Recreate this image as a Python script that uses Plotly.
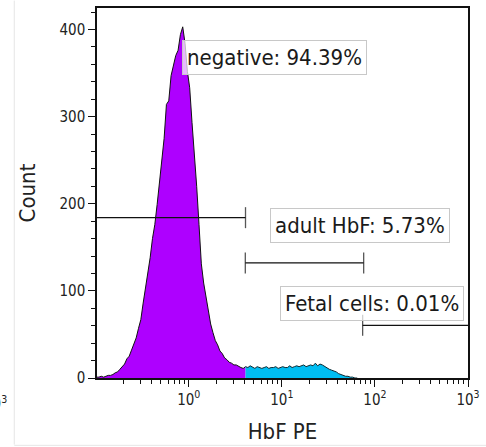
import numpy as np
import plotly.graph_objects as go

# ---- data -------------------------------------------------------------
bin_log_start = -0.99      # log10 of the first bin centre (HbF PE)
bin_log_step = 0.025       # bin width in decades
counts = [
    1, 1, 2, 1, 2, 3, 3, 4, 6, 7,
    10, 13, 16, 22, 25, 32, 40, 46, 57, 67,
    86, 103, 121, 138, 160, 176, 199, 222, 252, 275,
    314, 318, 347, 358, 370, 376, 394, 403, 384, 352,
    333, 293, 258, 220, 176, 131, 109, 93, 79, 62,
    52, 43, 38, 31, 28, 23, 21, 18, 17, 15,
    15, 13, 12, 11, 13, 12, 14, 12, 11, 13,
    12, 11, 12, 13, 11, 12, 12, 13, 11, 12,
    13, 12, 12, 14, 12, 13, 14, 13, 14, 15,
    13, 14, 15, 14, 17, 14, 16, 15, 13, 12,
    10, 9, 8, 7, 5, 4, 3, 2, 2, 1,
    1, 0, 0,
]

gate_names = ["negative", "adult HbF", "Fetal cells"]
gate_pct = [94.39, 5.73, 0.01]
gate_lo = [0.05, 4.05, 73.8]
gate_hi = [4.07, 75.7, 1500]
gate_level = [184, 132, 60.5]

x_tick_vals = [1, 10, 100, 1000]
x_tick_text = ["10<sup>0</sup>", "10<sup>1</sup>", "10<sup>2</sup>", "10<sup>3</sup>"]
x_minor_vals = [m * d for d in (0.1, 1, 10, 100) for m in range(2, 10)]

# ---- build ------------------------------------------------------------
centres = [10 ** (bin_log_start + bin_log_step * i) for i in range(len(counts))]
split = next(i for i, c in enumerate(centres) if c >= gate_hi[0] - 1e-6)

FONT = "DejaVu Sans Condensed, DejaVu Sans, sans-serif"
PURPLE = "#AE00FF"
CYAN = "#00BDF2"

fig = go.Figure()
fig.add_trace(go.Scatter(
    x=centres[:split + 1], y=counts[:split + 1], mode="lines",
    line=dict(color="#111111", width=1), fill="tozeroy", fillcolor=PURPLE,
    showlegend=False, hoverinfo="skip"))
fig.add_trace(go.Scatter(
    x=centres[split:], y=counts[split:], mode="lines",
    line=dict(color="#0a2a33", width=1), fill="tozeroy", fillcolor=CYAN,
    showlegend=False, hoverinfo="skip"))

# gates
cap_sizes = [[0, 15], [15, 15], [15, 0]]
for lo, hi, lev, caps in zip(gate_lo, gate_hi, gate_level, cap_sizes):
    fig.add_trace(go.Scatter(
        x=[lo, hi], y=[lev, lev], mode="lines+markers",
        line=dict(color="#111111", width=1.3),
        marker=dict(symbol="line-ns", size=caps,
                    line=dict(color="#111111", width=1.3)),
        showlegend=False, hoverinfo="skip"))

label_pos = [(0.92, 367.5), (1.843, 174.5), (1.967, 85.0)]
for name, pct, (lx, ly) in zip(gate_names, gate_pct, label_pos):
    fig.add_annotation(
        x=lx, y=ly, xref="x", yref="y", showarrow=False,
        text=f"{name}: {pct:.2f}%",
        font=dict(family=FONT, size=22, color="#1a1a1a"),
        bgcolor="rgba(255,255,255,0.72)", bordercolor="#c8c8c8",
        borderwidth=1, borderpad=4)

# remnants of neighbouring panel (cropped screenshot)
fig.add_annotation(
    x=-0.237, y=-0.068, xref="paper", yref="paper", xanchor="right",
    yanchor="middle", showarrow=False, text="10<sup>3</sup>",
    font=dict(family=FONT, size=15, color="#222222"))
fig.add_shape(type="line", xref="paper", yref="paper",
              x0=-0.223, x1=-0.223, y0=1.02, y1=-0.18,
              line=dict(color="#e6e6e6", width=1))
fig.add_shape(type="line", xref="paper", yref="paper",
              x0=-0.223, x1=1.05, y0=-0.182, y1=-0.182,
              line=dict(color="#e6e6e6", width=1))

fig.update_layout(
    width=486, height=447,
    margin=dict(l=97, r=17, t=6, b=69),
    paper_bgcolor="white", plot_bgcolor="white",
    font=dict(family=FONT, size=15, color="#222222"),
)
fig.update_xaxes(
    type="log", range=[-0.986, 3.0],
    tickmode="array", tickvals=x_tick_vals, ticktext=x_tick_text,
    ticks="outside", ticklen=7, tickwidth=1.3, tickcolor="#111111",
    minor=dict(tickmode="array", tickvals=x_minor_vals, ticks="outside",
               ticklen=4, tickwidth=1.3, tickcolor="#111111", showgrid=False),
    showline=True, linecolor="#111111", linewidth=1.5, mirror=True,
    showgrid=False, zeroline=False,
    tickfont=dict(family=FONT, size=15),
    title=dict(text="HbF PE", font=dict(family=FONT, size=22), standoff=16),
)
fig.update_yaxes(
    range=[0, 424.6], tickmode="linear", tick0=0, dtick=100,
    ticks="outside", ticklen=7, tickwidth=1.3, tickcolor="#111111",
    minor=dict(dtick=20, ticks="outside", ticklen=4, tickwidth=1.3,
               tickcolor="#111111", showgrid=False),
    showline=True, linecolor="#111111", linewidth=1.5, mirror=True,
    showgrid=False, zeroline=False,
    tickfont=dict(family=FONT, size=15),
    title=dict(text="Count", font=dict(family=FONT, size=22), standoff=18),
)

fig.write_html("out.html",
               config={"displayModeBar": False},
               post_script="document.body.style.margin='0';"
                           "document.body.style.overflow='hidden';")
